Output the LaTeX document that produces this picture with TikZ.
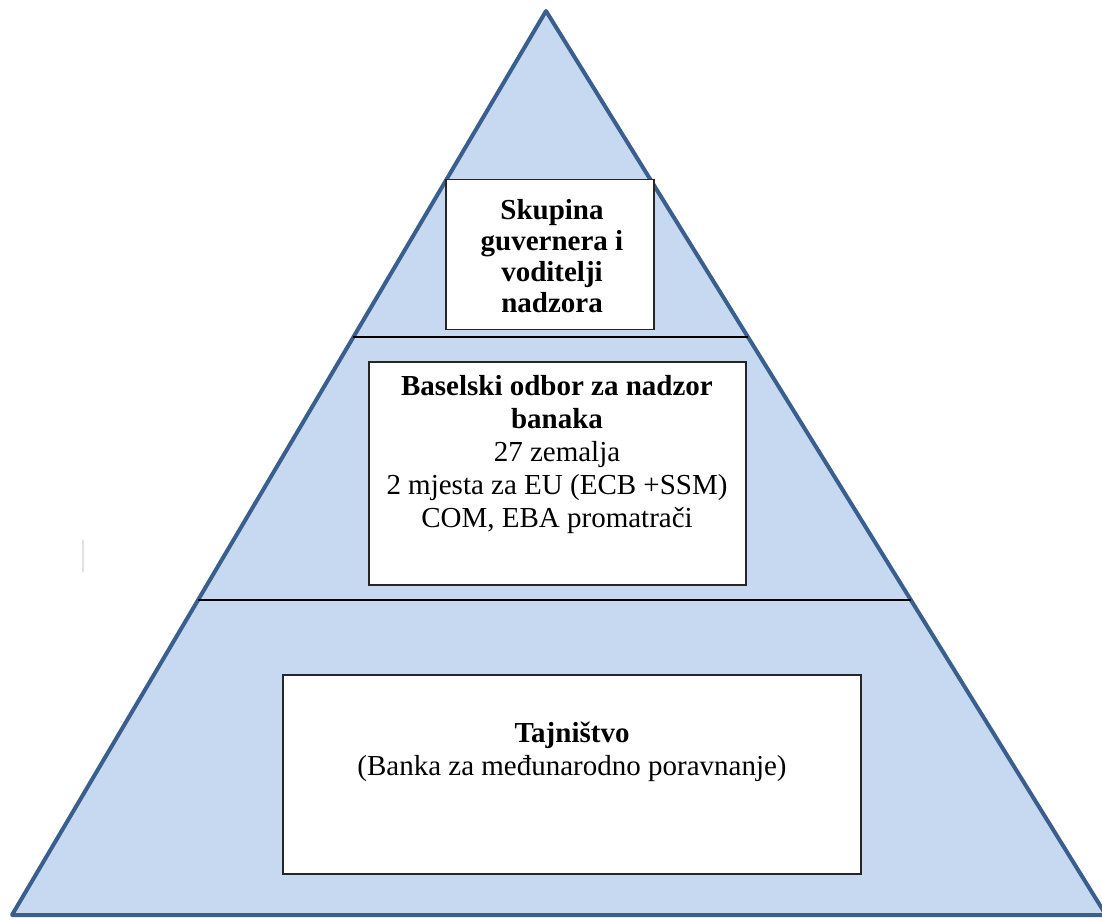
\documentclass[tikz,border=0pt]{standalone}
\usepackage{fontspec}
\setmainfont{Liberation Serif}
\usetikzlibrary{calc}
\definecolor{pyrfill}{HTML}{C6D9F1}
\definecolor{pyredge}{HTML}{3A5F8E}
\begin{document}
\begin{tikzpicture}[x=1pt,y=-1pt,
  pyramid/.style={fill=pyrfill, draw=pyredge, line width=4pt, line join=round},
  box/.style={draw=black!85, line width=1.5pt, fill=white, inner sep=0pt},
  txt/.style={align=center, inner sep=0pt, anchor=base, font=\fontsize{29}{33}\selectfont},
  toptxt/.style={txt, font=\fontsize{29}{31}\selectfont\bfseries},
  tier/.style={draw=black, line width=1.5pt}]
\useasboundingbox (0,0) rectangle (1102,920);
\coordinate (A) at (546,11);
\coordinate (L) at (12,915);
\coordinate (R) at (1106,915);
\draw[pyramid] (A) -- (L) -- (R) -- cycle;
% tier lines
\coordinate (l1) at ($(A)!0.3606!(L)$);
\coordinate (r1) at ($(A)!0.3606!(R)$);
\coordinate (l2) at ($(A)!0.6516!(L)$);
\coordinate (r2) at ($(A)!0.6516!(R)$);
\draw[tier] (l1) -- (r1);
\draw[tier] (l2) -- (r2);
% boxes
\node[box, minimum width=208, minimum height=150] (b1) at (550,254.5) {};
\node[box, minimum width=377, minimum height=223] (b2) at (557.5,473.5) {};
\node[box, minimum width=578, minimum height=199] (b3) at (572,774.5) {};
% texts (base anchor = baseline of last line)
\node[toptxt] (t1) at (552,312) {Skupina\\guvernera i\\voditelji\\nadzora};
\node[txt] (t2) at (557,527) {\textbf{Baselski odbor za nadzor}\\\textbf{banaka}\\27 zemalja\\2 mjesta za EU (ECB +SSM)\\COM, EBA promatrači};
\node[txt] (t3) at (572,775) {\textbf{Tajništvo}\\(Banka za međunarodno poravnanje)};
% faint mark
\draw[black!12, line width=1.5pt] (83,540) -- (83,572);
\end{tikzpicture}
\end{document}
